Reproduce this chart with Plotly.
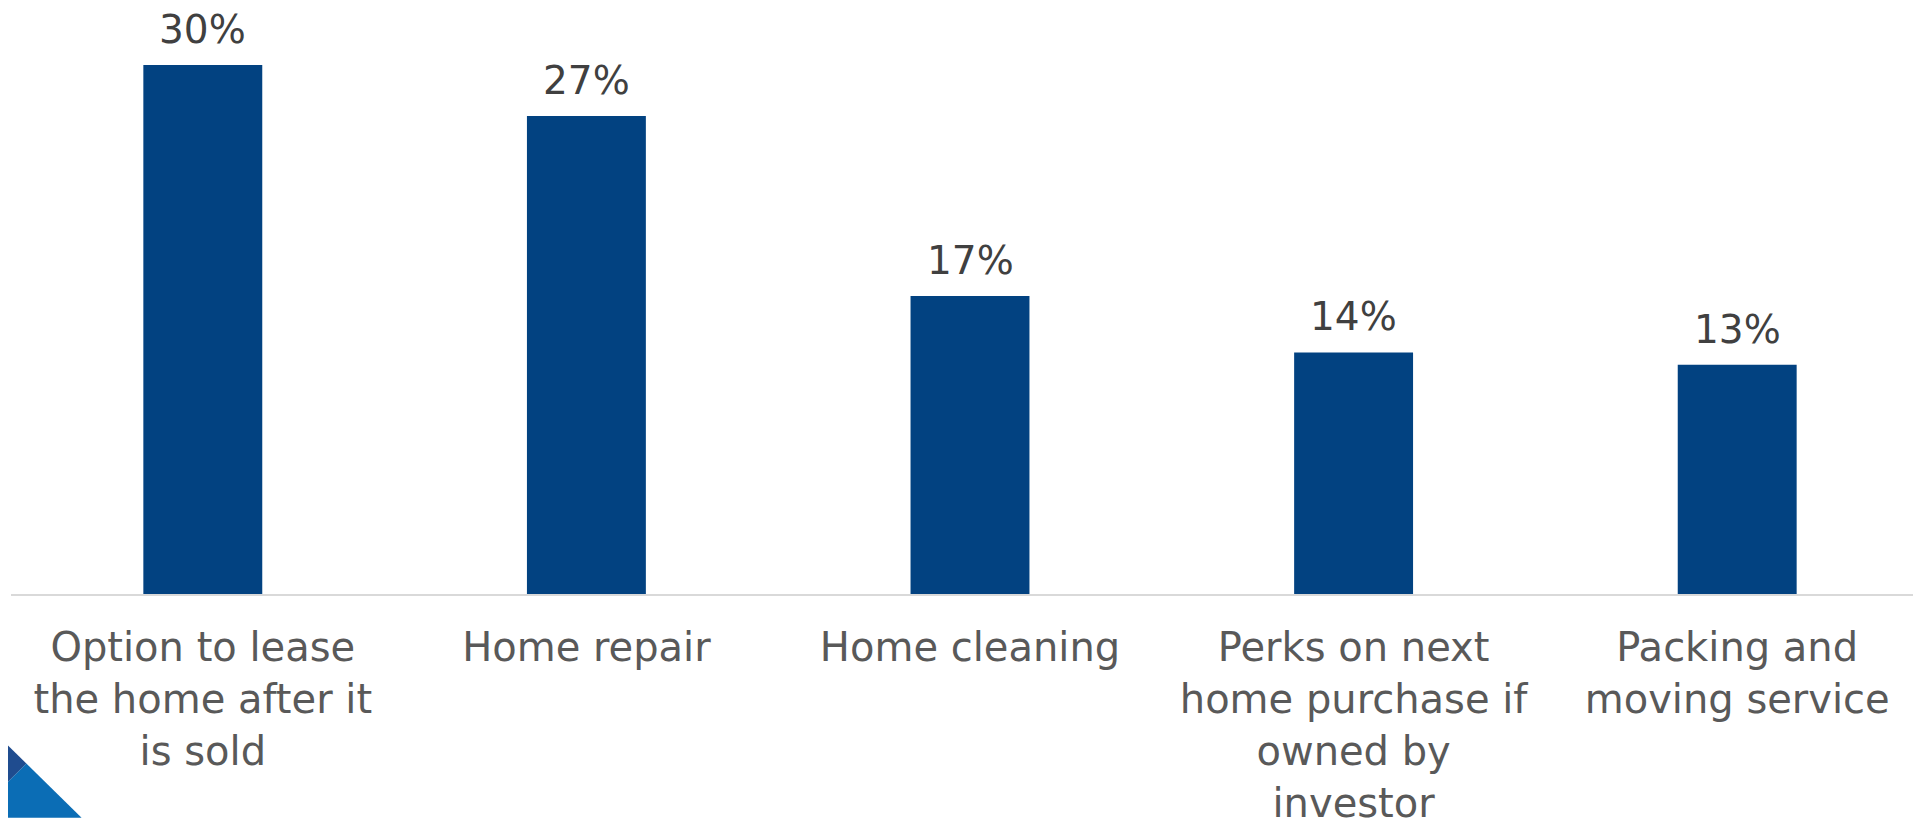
import plotly.graph_objects as go

categories = [
    "Option to lease<br>the home after it<br>is sold",
    "Home repair",
    "Home cleaning",
    "Perks on next<br>home purchase if<br>owned by<br>investor",
    "Packing and<br>moving service",
]
values = [30.0, 27.1, 16.9, 13.7, 13.0]
labels = ["30%", "27%", "17%", "14%", "13%"]

BAR = "#024281"
FONT = "DejaVu Sans"

fig = go.Figure()
fig.add_trace(go.Bar(
    x=categories, y=values, marker=dict(color=BAR, line=dict(width=0)),
    hoverinfo="skip",
))

for c, v, t in zip(categories, values, labels):
    fig.add_annotation(x=c, y=v, text=t, showarrow=False, yanchor="bottom",
                       yshift=12, borderpad=0,
                       font=dict(family=FONT, size=39, color="#404040"))

# decorative corner triangles (paper coords relative to plot area)
fig.add_shape(type="path", xref="paper", yref="paper",
              path="M -0.0016 -0.3204 L 0.0080 -0.2894 L 0.0368 -0.3818 L -0.0016 -0.3818 Z",
              fillcolor="#0b6db5", line=dict(width=0), layer="above")
fig.add_shape(type="path", xref="paper", yref="paper",
              path="M -0.0016 -0.2584 L 0.0080 -0.2894 L -0.0016 -0.3204 Z",
              fillcolor="#1f4c8f", line=dict(width=0), layer="above")

fig.update_layout(
    width=1921, height=818,
    margin=dict(l=3, r=0, t=0, b=224),
    paper_bgcolor="white", plot_bgcolor="white",
    bargap=0.69, showlegend=False,
    font=dict(family=FONT, size=40, color="#595959"),
    xaxis=dict(showgrid=False, showline=True, linecolor="#d9d9d9", linewidth=2,
               ticks="", tickfont=dict(family=FONT, size=40, color="#595959"),
               ticklabelstandoff=17, range=[-0.5, 4.50]),
    yaxis=dict(visible=False, range=[0, 33.23], showgrid=False, zeroline=False),
)
fig.write_html("out.html")
